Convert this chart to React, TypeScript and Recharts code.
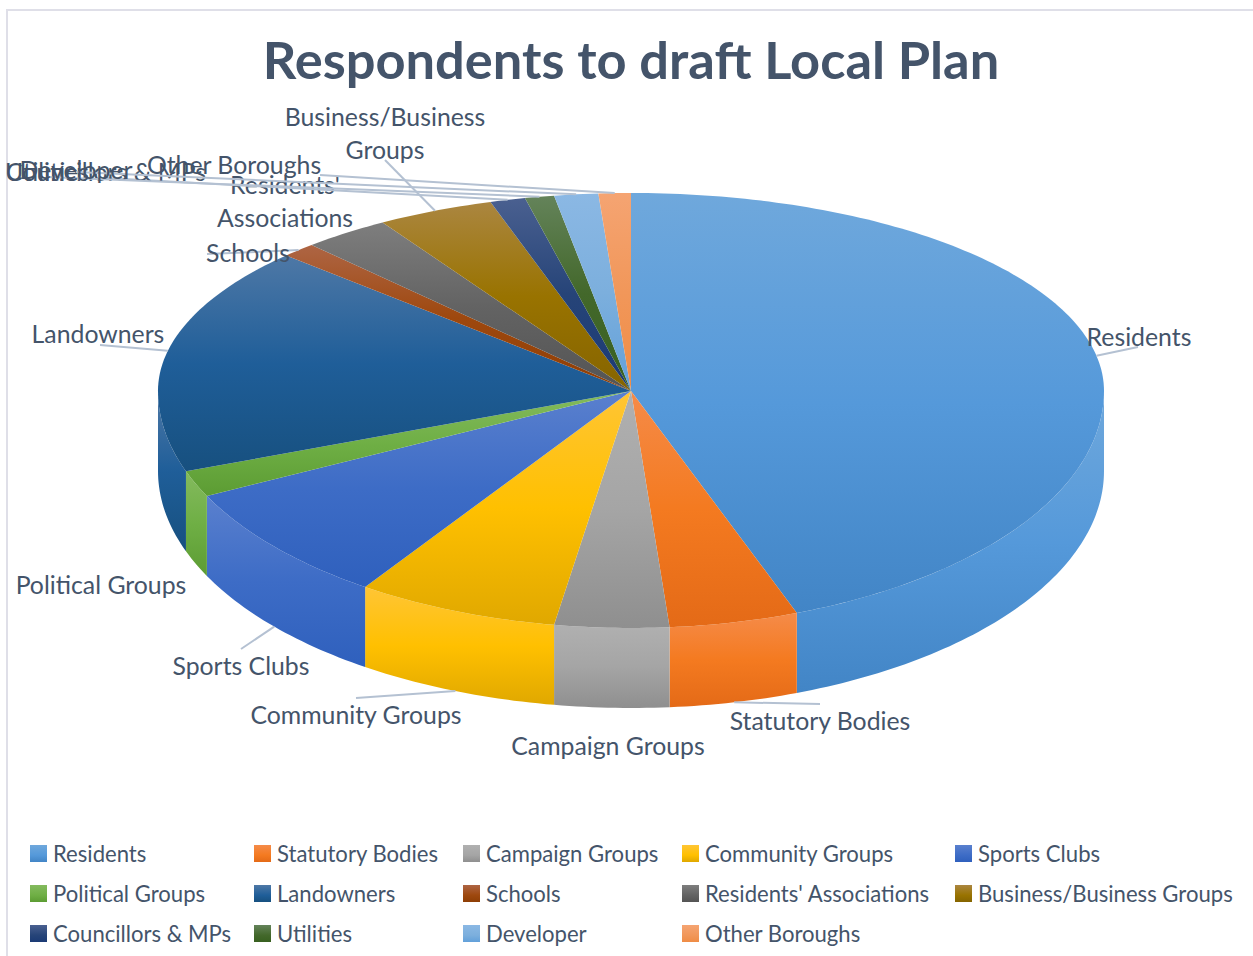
import { PieChart, Pie, Legend } from "recharts";

const CATEGORIES = [
  "Residents",
  "Statutory Bodies",
  "Campaign Groups",
  "Community Groups",
  "Sports Clubs",
  "Political Groups",
  "Landowners",
  "Schools",
  "Residents' Associations",
  "Business/Business Groups",
  "Councillors & MPs",
  "Utilities",
  "Developer",
  "Other Boroughs",
];

const RESPONDENTS = [44.3, 4.4, 3.9, 6.9, 8.2, 1.8, 17.5, 1.2, 3.0, 4.0, 1.2, 1.0, 1.5, 1.1];

// light, base, dark stops for each slice
const SHADES = [
  ["#6FA8DC", "#5599DA", "#4285C6"],
  ["#F58B49", "#F47A20", "#E46A17"],
  ["#B0B0B0", "#A5A5A5", "#8F8F8F"],
  ["#FFC535", "#FFC000", "#E0A800"],
  ["#5A80CE", "#3D6CC6", "#2F60BD"],
  ["#84BA5E", "#6FAF45", "#5C9C33"],
  ["#4E78A6", "#1F5E99", "#17507F"],
  ["#AE6544", "#9E480E", "#8E3E05"],
  ["#7E7E7E", "#636363", "#545454"],
  ["#AB8640", "#997300", "#856400"],
  ["#4A6090", "#264478", "#1B3A75"],
  ["#64835A", "#43682B", "#386020"],
  ["#8BB8E4", "#7CAFDD", "#62A0DA"],
  ["#F5A472", "#F1975A", "#EF8C45"],
];

// label centre and where its leader line starts
const LABEL_SPOTS = [
  { x: 1139, y: 336, lx: 1138, ly: 347 },
  { x: 820, y: 720, lx: 820, ly: 704 },
  { x: 608, y: 745 },
  { x: 356, y: 714, lx: 356, ly: 698 },
  { x: 241, y: 665, lx: 241, ly: 649 },
  { x: 101, y: 584 },
  { x: 98, y: 333, lx: 100, ly: 345 },
  { x: 248, y: 252, lx: 207, ly: 254 },
  { x: 285, y: 184, lines: ["Residents'", "Associations"] },
  { x: 385, y: 116, lx: 385, ly: 160, lines: ["Business/Business", "Groups"] },
  { x: 106, y: 171, lx: 106, ly: 178 },
  { x: 47, y: 171, lx: 47, ly: 177 },
  { x: 76, y: 169, lx: 76, ly: 172 },
  { x: 234, y: 164, lx: 320, ly: 175 },
];

const LEGEND_COLUMNS = "224px 209px 219px 273px 260px";
const FONT = "Lato, Carlito, sans-serif";
const TEXT_COLOR = "#44546A";
const LINE_COLOR = "#B4C1D2";

const BACK_TILT = 198 / 473;
const FRONT_TILT = 237 / 473;
const DEPTH = 80;

const rows = CATEGORIES.map((name, i) => ({
  name,
  value: RESPONDENTS[i],
  fill: `url(#top-${i})`,
}));

function rimPoint(cx: number, cy: number, r: number, deg: number, drop = 0) {
  const t = (deg * Math.PI) / 180;
  const c = Math.cos(t);
  return {
    x: cx + r * Math.sin(t),
    y: cy - r * c * (c > 0 ? BACK_TILT : FRONT_TILT) + drop,
  };
}

function arcPoints(cx: number, cy: number, r: number, from: number, to: number, drop = 0) {
  const pts = [];
  const steps = Math.max(2, Math.ceil(Math.abs(to - from)));
  for (let i = 0; i <= steps; i++) {
    const p = rimPoint(cx, cy, r, from + ((to - from) * i) / steps, drop);
    pts.push(`${p.x.toFixed(2)} ${p.y.toFixed(2)}`);
  }
  return pts;
}

// Recharts gives the angles, the slice is squashed into the tilted disc here
function TiltedSlice(props: any) {
  const { cx, cy, outerRadius, startAngle, endAngle, index } = props;
  const a = 90 - startAngle;
  const b = 90 - endAngle;
  const top = `M${cx} ${cy}L${arcPoints(cx, cy, outerRadius, a, b).join("L")}Z`;
  const wallFrom = Math.max(a, 90);
  const wallTo = Math.min(b, 270);
  let wall = null;
  if (wallFrom < wallTo) {
    const upper = arcPoints(cx, cy, outerRadius, wallFrom, wallTo);
    const lower = arcPoints(cx, cy, outerRadius, wallTo, wallFrom, DEPTH);
    wall = `M${upper.concat(lower).join("L")}Z`;
  }
  return (
    <g>
      {wall && <path d={wall} fill={`url(#side-${index})`} />}
      <path d={top} fill={`url(#top-${index})`} />
    </g>
  );
}

function SliceLabel(props: any) {
  const { cx, cy, outerRadius, midAngle, index, name } = props;
  const spot: any = LABEL_SPOTS[index];
  const deg = 90 - midAngle;
  const front = deg > 90 && deg < 270;
  const end = rimPoint(cx, cy, outerRadius, deg, front ? DEPTH : 0);
  const lines = spot.lines || [name];
  return (
    <g>
      {spot.lx !== undefined && (
        <line x1={spot.lx} y1={spot.ly} x2={end.x} y2={end.y} stroke={LINE_COLOR} strokeWidth={2} />
      )}
      {lines.map((t: string, i: number) => (
        <text
          key={t}
          x={spot.x}
          y={spot.y + i * 33}
          textAnchor="middle"
          dominantBaseline="central"
          fontFamily={FONT}
          fontSize={24.8}
          fill={TEXT_COLOR}
        >
          {t}
        </text>
      ))}
    </g>
  );
}

function LegendBlock({ payload }: any) {
  return (
    <div
      style={{
        display: "grid",
        gridTemplateColumns: LEGEND_COLUMNS,
        gridAutoRows: "40px",
        paddingLeft: 30,
        fontFamily: FONT,
        fontSize: 22.1,
        color: TEXT_COLOR,
        whiteSpace: "nowrap",
      }}
    >
      {(payload || []).map((entry: any, i: number) => (
        <div key={entry.value} style={{ display: "flex", alignItems: "center" }}>
          <span
            style={{
              flexShrink: 0,
              width: 17,
              height: 17,
              marginRight: 6,
              background: `linear-gradient(${SHADES[i][0]}, ${SHADES[i][1]} 60%, ${SHADES[i][2]})`,
            }}
          />
          {entry.value}
        </div>
      ))}
    </div>
  );
}

export default function App() {
  return (
    <div style={{ position: "absolute", left: 0, top: 0, width: 1253, height: 956, background: "#fff", overflow: "hidden" }}>
      <PieChart width={1253} height={956} margin={{ top: 0, right: 0, bottom: 0, left: 0 }}>
        <defs>
          {SHADES.map((s, i) => (
            <linearGradient key={`top-${i}`} id={`top-${i}`} x1="0" y1="0" x2="0" y2="1">
              <stop offset="0%" stopColor={s[0]} />
              <stop offset="50%" stopColor={s[1]} />
              <stop offset="100%" stopColor={s[2]} />
            </linearGradient>
          ))}
          {SHADES.map((s, i) => (
            <linearGradient key={`side-${i}`} id={`side-${i}`} x1="0" y1="0" x2="0" y2="1">
              <stop offset="0%" stopColor={s[0]} />
              <stop offset="50%" stopColor={s[1]} />
              <stop offset="100%" stopColor={s[2]} />
            </linearGradient>
          ))}
        </defs>
        <path d="M7 956V10H1253" fill="none" stroke="#DFDFE8" strokeWidth={2} />
        <text
          x={631}
          y={58}
          textAnchor="middle"
          dominantBaseline="central"
          fontFamily={FONT}
          fontWeight={700}
          fontSize={52.4}
          fill={TEXT_COLOR}
        >
          Respondents to draft Local Plan
        </text>
        <Pie
          data={rows}
          dataKey="value"
          nameKey="name"
          cx={631}
          cy={391}
          outerRadius={473}
          startAngle={90}
          endAngle={-270}
          stroke="none"
          shape={TiltedSlice}
          label={SliceLabel}
          labelLine={false}
          isAnimationActive={false}
        />
        <Legend
          content={<LegendBlock />}
          itemSorter={null}
          wrapperStyle={{ left: 0, top: 833, width: 1253 }}
        />
      </PieChart>
    </div>
  );
}
